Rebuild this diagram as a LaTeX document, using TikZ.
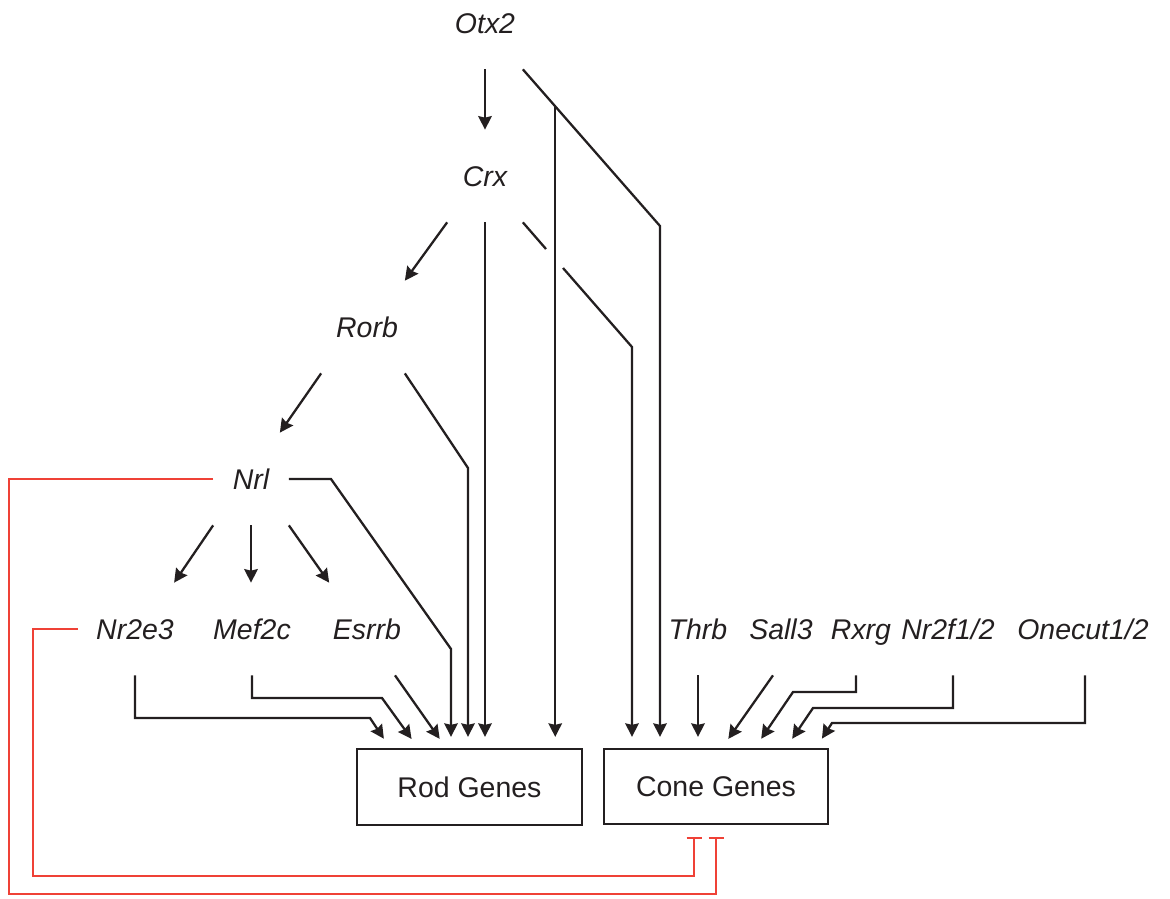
\documentclass[tikz,border=0pt]{standalone}
\usepackage{fontspec}
\setmainfont{Liberation Sans}
\usetikzlibrary{arrows.meta}
\definecolor{ink}{RGB}{35,31,32}
\definecolor{inhred}{RGB}{239,65,54}

\begin{document}
\begin{tikzpicture}[
    every node/.style={font=\fontsize{16.2}{19}\selectfont, text=ink,
                       text height=0.41cm, text depth=0cm},
    gene/.style={font=\fontsize{16.2}{19}\selectfont\itshape,
                 minimum width=1.5cm, minimum height=1.84cm, inner sep=0pt},
    box/.style={draw=ink, line width=1.3pt, minimum width=4.5cm,
                minimum height=1.52cm, inner sep=0pt},
    arr/.style={-{Stealth[length=0.27cm,width=0.27cm,inset=0.03cm]},
                draw=ink, line width=1.3pt},
    tobox/.style={arr, shorten >=0.22cm},
    inh/.style={-{Bar[width=0.3cm]}, draw=inhred, line width=1.2pt, shorten >=0.24cm},
]
\useasboundingbox (0,0) rectangle (23.4,-17.98);
% Cascade (absolute coords)
\node[gene] (otx)   at (9.70,-0.46)  {Otx2};
\node[gene] (crx)   at (9.70,-3.52)  {Crx};
\node[gene] (rorb)  at (7.34,-6.54)  {Rorb};
\node[gene] (nrl)   at (5.02,-9.58)  {Nrl};
% Row: rod factors
\node[gene] (nr2e3) at (2.70,-12.58) {Nr2e3};
\node[gene] (mef2c) at (5.04,-12.58) {Mef2c};
\node[gene] (esrrb) at (7.34,-12.58) {Esrrb};
% Row: cone factors
\node[gene] (thrb)   at (13.96,-12.58) {Thrb};
\node[gene] (sall3)  at (15.62,-12.58) {Sall3};
\node[gene] (rxrg)   at (17.22,-12.58) {Rxrg};
\node[gene] (nrf)    at (18.96,-12.58) {Nr2f1/2};
\node[gene] (onecut) at (21.66,-12.58) {Onecut1/2};
% Targets
\node[box] (rod)  at (9.39,-15.74) {Rod Genes};
\node[box, minimum width=4.48cm, minimum height=1.5cm] (cone) at (14.32,-15.73) {Cone Genes};
% Cascade arrows
\draw[arr] (otx) -- (crx);
\draw[arr] (crx.south west) -- (rorb.north east);
\draw[arr] ([xshift=-0.16cm]rorb.south west) -- ([xshift=-0.18cm]nrl.north east);
\draw[arr] (nrl.south west) -- (nr2e3.north east);
\draw[arr] (nrl.south) -- (nrl.south |- mef2c.north);
\draw[arr] (nrl.south east) -- (esrrb.north west);
% Into rod genes
\draw[tobox] (nr2e3.south) |- (7.40,-14.36) -- (7.80,0 |- rod.north);
\draw[tobox] (mef2c.south) |- (7.64,-13.96) -- (8.36,0 |- rod.north);
\draw[tobox] ([xshift=0.56cm]esrrb.south) -- (8.92,0 |- rod.north);
\draw[tobox] (nrl.east) -- (6.62,-9.58) -- (9.02,-12.98) -- (9.02,0 |- rod.north);
\draw[tobox] (rorb.south east) -- (9.36,-9.36) -- (9.36,0 |- rod.north);
\draw[tobox] (crx.south) -- (crx.south |- rod.north);
% Otx2 to cone (split point feeds rod)
\draw[tobox] (otx.south east) -- coordinate[pos=0.236] (otxsplit) (13.20,-4.52)
    -- (13.20,0 |- cone.north);
\draw[tobox] (otxsplit) -- (otxsplit |- rod.north);
% Crx to cone, broken where it crosses
\draw[tobox] (crx.south east) -- (10.92,-4.98) (11.26,-5.36) -- (12.64,-6.94)
    -- (12.64,0 |- cone.north);
% Into cone genes
\draw[tobox] (thrb) -- (thrb |- cone.north);
\draw[tobox] ([xshift=-0.16cm]sall3.south) -- (14.44,0 |- cone.north);
\draw[tobox] ([xshift=-0.10cm]rxrg.south) |- (15.86,-13.84) -- (15.10,0 |- cone.north);
\draw[tobox] ([xshift=0.10cm]nrf.south) |- (16.26,-14.16) -- (15.72,0 |- cone.north);
\draw[tobox] ([xshift=0.04cm]onecut.south) |- (16.64,-14.46) -- (16.32,0 |- cone.north);
% Repression of cone genes
\draw[inh] (nrl.west) -| (0.18,-17.88) -| (cone.south);
\draw[inh] ([xshift=-0.36cm]nr2e3.west) -| (0.66,-17.52) -| (13.88,0 |- cone.south);
\end{tikzpicture}
\end{document}
